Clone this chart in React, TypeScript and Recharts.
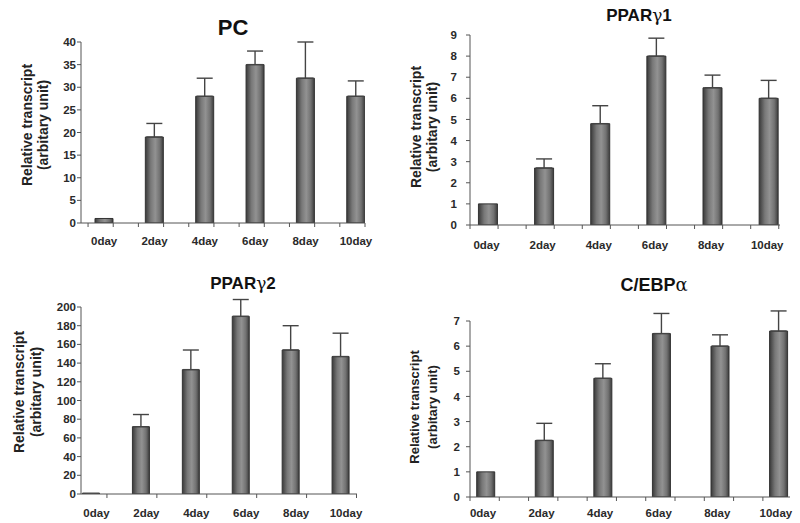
import React from 'react';
import { BarChart, Bar, XAxis, YAxis, ErrorBar } from 'recharts';

const days = ['0day', '2day', '4day', '6day', '8day', '10day'];

const pcValues = [1, 19, 28, 35, 32, 28];
const pcErrors = [null, 3, 4, 3, 8, 3.4];
const pcTicks = [0, 5, 10, 15, 20, 25, 30, 35, 40];

const pparG1Values = [1, 2.7, 4.8, 8.0, 6.5, 6.0];
const pparG1Errors = [null, 0.43, 0.85, 0.85, 0.6, 0.85];
const pparG1Ticks = [0, 1, 2, 3, 4, 5, 6, 7, 8, 9];

const pparG2Values = [1, 72, 133, 190, 154, 147];
const pparG2Errors = [null, 13, 21, 18, 26, 25];
const pparG2Ticks = [0, 20, 40, 60, 80, 100, 120, 140, 160, 180, 200];

const cebpaValues = [1, 2.25, 4.72, 6.5, 6.0, 6.6];
const cebpaErrors = [null, 0.68, 0.58, 0.8, 0.45, 0.8];
const cebpaTicks = [0, 1, 2, 3, 4, 5, 6, 7];

const FONT = '"Liberation Sans", Arial, Helvetica, sans-serif';

type Panel = {
  key: string;
  left: number;
  top: number;
  values: number[];
  errors: (number | null)[];
  yTicks: number[];
  x1: number;
  x2: number;
  yTop: number;
  yZero: number;
  xDomain: [number, number];
  barSize: number;
  labelOffset: number;
  labelDx: number;
  tickStart: number;
  tickStep: number;
  yTickMargin: number;
};

const panels: Panel[] = [
  {
    key: 'pc', left: 0, top: 0, values: pcValues, errors: pcErrors, yTicks: pcTicks,
    x1: 81, x2: 365, yTop: 42, yZero: 223, xDomain: [-0.46, 5.18], barSize: 18,
    labelOffset: 18, labelDx: 0, tickStart: -0.32, tickStep: 0.5, yTickMargin: 1,
  },
  {
    key: 'g1', left: 400, top: 0, values: pparG1Values, errors: pparG1Errors, yTicks: pparG1Ticks,
    x1: 70, x2: 380, yTop: 35, yZero: 225, xDomain: [-0.312, 5.21], barSize: 19,
    labelOffset: 20, labelDx: -1, tickStart: -0.312, tickStep: 0.5, yTickMargin: 9,
  },
  {
    key: 'g2', left: 0, top: 250, values: pparG2Values, errors: pparG2Errors, yTicks: pparG2Ticks,
    x1: 81, x2: 357, yTop: 57, yZero: 244, xDomain: [-0.21, 5.32], barSize: 17,
    labelOffset: 19, labelDx: 5, tickStart: 0.31, tickStep: 1, yTickMargin: 1,
  },
  {
    key: 'ce', left: 400, top: 250, values: cebpaValues, errors: cebpaErrors, yTicks: cebpaTicks,
    x1: 70, x2: 390, yTop: 71, yZero: 247, xDomain: [-0.273, 5.19], barSize: 18,
    labelOffset: 16, labelDx: -3, tickStart: -0.273, tickStep: 0.5, yTickMargin: 6,
  },
];

function buildTicks(p: Panel): number[] {
  const out: number[] = days.map((_, i) => i);
  for (let k = 0; ; k++) {
    const v = +(p.tickStart + k * p.tickStep).toFixed(4);
    if (v > p.xDomain[1] + 1e-6) break;
    if (v >= p.xDomain[0] - 1e-6 && !Number.isInteger(v)) out.push(v);
  }
  return out.sort((a, b) => a - b);
}

function PanelChart({ p }: { p: Panel }) {
  const data = days.map((d, i) => ({
    i,
    day: d,
    value: p.values[i],
    err: p.errors[i] == null ? null : [0, p.errors[i] as number],
  }));
  const ticks = buildTicks(p);
  const width = 400;
  const height = p.yZero + 30;
  const yMax = p.yTicks[p.yTicks.length - 1];
  const gid = `grad-${p.key}`;
  const renderTick = (props: any) => {
    const { x, y, payload } = props;
    const v = payload.value;
    if (Number.isInteger(v)) {
      return (
        <text
          x={x + p.labelDx}
          y={y + p.labelOffset}
          textAnchor="middle"
          dominantBaseline="central"
          fontSize={11.5}
          fontWeight={700}
          fill="#2a2a2a"
          fontFamily={FONT}
        >
          {days[v]}
        </text>
      );
    }
    return <line x1={x} x2={x} y1={y} y2={y + 4} stroke="#555" strokeWidth={1} />;
  };
  return (
    <div style={{ position: 'absolute', left: p.left, top: p.top }}>
      <BarChart
        width={width}
        height={height}
        data={data}
        margin={{ top: p.yTop, right: width - p.x2, bottom: 0, left: p.x1 - 40 }}
      >
        <defs>
          <linearGradient id={gid} x1="0" y1="0" x2="1" y2="0">
            <stop offset="0%" stopColor="#3a3a3a" />
            <stop offset="30%" stopColor="#787878" />
            <stop offset="55%" stopColor="#929292" />
            <stop offset="80%" stopColor="#727272" />
            <stop offset="100%" stopColor="#3c3c3c" />
          </linearGradient>
        </defs>
        <XAxis
          dataKey="i"
          type="number"
          domain={p.xDomain}
          allowDataOverflow
          ticks={ticks}
          interval={0}
          tick={renderTick}
          tickLine={false}
          tickSize={0}
          tickMargin={0}
          axisLine={{ stroke: '#555' }}
          height={30}
        />
        <YAxis
          type="number"
          domain={[0, yMax]}
          ticks={p.yTicks}
          interval={0}
          allowDataOverflow
          width={40}
          tickSize={4}
          tickMargin={p.yTickMargin}
          tick={{ fontSize: 11.5, fontWeight: 700, fill: '#2a2a2a', fontFamily: FONT }}
          axisLine={{ stroke: '#555' }}
          tickLine={{ stroke: '#555' }}
        />
        <Bar
          dataKey="value"
          barSize={p.barSize}
          fill={`url(#${gid})`}
          stroke="#333"
          strokeWidth={1}
          isAnimationActive={false}
        >
          <ErrorBar dataKey="err" direction="y" width={8} stroke="#444" strokeWidth={1.4} />
        </Bar>
      </BarChart>
    </div>
  );
}

const greek = '"DejaVu Serif", "Liberation Serif", serif';

function YLabel({ x1, x2, y, size }: { x1: number; x2: number; y: number; size: number }) {
  return (
    <g fontFamily={FONT} fontWeight={700} fontSize={size} fill="#222">
      <text x={x1} y={y} textAnchor="middle" dominantBaseline="central" transform={`rotate(-90 ${x1} ${y})`}>
        Relative transcript
      </text>
      <text x={x2} y={y} textAnchor="middle" dominantBaseline="central" transform={`rotate(-90 ${x2} ${y})`}>
        (arbitary unit)
      </text>
    </g>
  );
}

export default function App() {
  return (
    <div style={{ position: 'absolute', left: 0, top: 0, width: 800, height: 523, background: '#fff', overflow: 'hidden' }}>
      {panels.map((p) => (
        <PanelChart key={p.key} p={p} />
      ))}
      <svg width={800} height={523} style={{ position: 'absolute', left: 0, top: 0, pointerEvents: 'none' }}>
        <g fontFamily={FONT} fontWeight={700} fill="#111" textAnchor="middle">
          <text x={233} y={35} fontSize={22}>PC</text>
          <text x={639} y={21} fontSize={17}>
            PPAR<tspan fontFamily={greek} fontWeight={400}>γ</tspan>1
          </text>
          <text x={243} y={289} fontSize={17}>
            PPAR<tspan fontFamily={greek} fontWeight={400}>γ</tspan>2
          </text>
          <text x={654} y={291} fontSize={18}>
            C/EBP<tspan fontFamily={greek} fontWeight={400}>α</tspan>
          </text>
        </g>
        <YLabel x1={27} x2={43} y={125} size={14} />
        <YLabel x1={416} x2={432} y={127} size={14} />
        <YLabel x1={19} x2={36} y={392} size={14} />
        <YLabel x1={414} x2={432} y={407} size={13} />
      </svg>
    </div>
  );
}
